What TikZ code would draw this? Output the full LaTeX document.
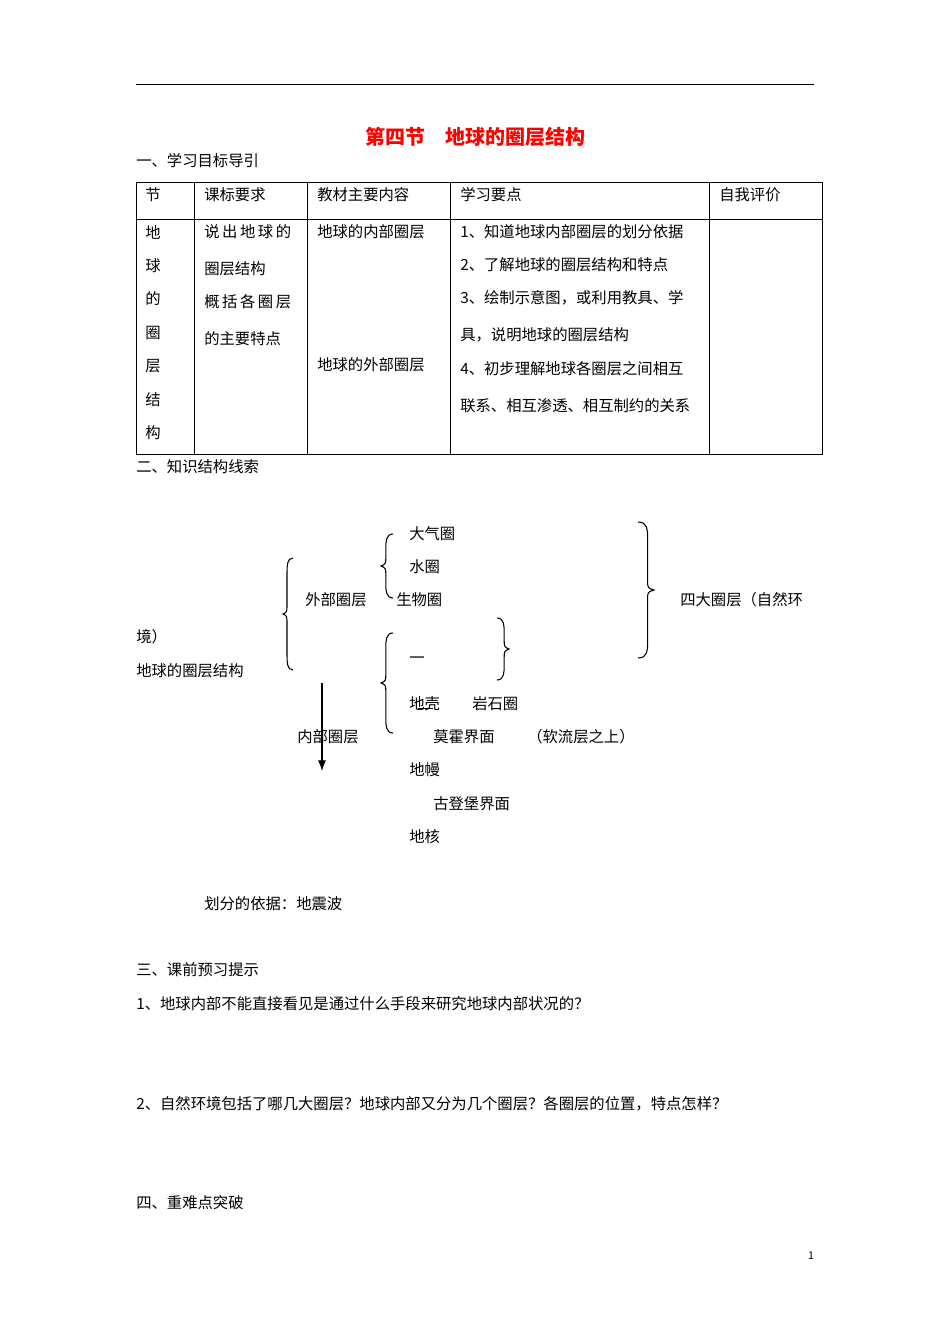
\documentclass[tikz,border=0pt]{standalone}
\usepackage{fontspec}
\usetikzlibrary{arrows.meta}
\setmainfont{Noto Sans CJK SC}
\newfontfamily\cjk{Noto Sans CJK SC}
\begin{document}
\begin{tikzpicture}[x=0.75pt,y=-0.75pt,
  t/.style={anchor=west,inner sep=0pt,font=\cjk\fontsize{11.5}{14}\selectfont},
  brc/.style={line width=0.8pt},
  rule/.style={line width=0.6pt}]
\useasboundingbox (0,0) rectangle (950,1344);
\fill[white] (0,0) rectangle (950,1344);
\newcommand\lbrc[4]{% x ytop ybot width
  \draw[brc] (#1,#2) .. controls ({#1-#4*0.6},#2) and ({#1-#4*0.6},{#2+8}) .. ({#1-#4*0.6},{#2+15})
   -- ({#1-#4*0.6},{(#2+#3)/2-10}) .. controls ({#1-#4*0.6},{(#2+#3)/2-2}) .. ({#1-#4},{(#2+#3)/2})
   .. controls ({#1-#4*0.6},{(#2+#3)/2+2}) .. ({#1-#4*0.6},{(#2+#3)/2+10})
   -- ({#1-#4*0.6},{#3-15}) .. controls ({#1-#4*0.6},{#3-8}) and ({#1-#4*0.6},#3) .. (#1,#3);}
\newcommand\rbrc[4]{% x ytop ybot width (x is open side)
  \draw[brc] (#1,#2) .. controls ({#1+#4*0.6},#2) and ({#1+#4*0.6},{#2+8}) .. ({#1+#4*0.6},{#2+15})
   -- ({#1+#4*0.6},{(#2+#3)/2-10}) .. controls ({#1+#4*0.6},{(#2+#3)/2-2}) .. ({#1+#4},{(#2+#3)/2})
   .. controls ({#1+#4*0.6},{(#2+#3)/2+2}) .. ({#1+#4*0.6},{(#2+#3)/2+10})
   -- ({#1+#4*0.6},{#3-15}) .. controls ({#1+#4*0.6},{#3-8}) and ({#1+#4*0.6},#3) .. (#1,#3);}
\draw[rule] (136,84) -- (814,84);
\node[anchor=center,inner sep=0pt,text=red,font=\cjk\bfseries\fontsize{15}{18}\selectfont] (title) at (475,137) {第四节\hspace{1em}地球的圈层结构};
\node[t] (s1) at (136,161) {一、学习目标导引};
% table
\draw[rule] (136,182) rectangle (822,454);
\draw[rule] (136,219) -- (822,219);
\foreach \xx in {194,307,450,709} \draw[rule] (\xx,182) -- (\xx,454);
\node[t] (h1) at (145,195) {节};
\node[t] (h2) at (204,195) {课标要求};
\node[t] (h3) at (317,195) {教材主要内容};
\node[t] (h4) at (460,195) {学习要点};
\node[t] (h5) at (719,195) {自我评价};
\foreach \c [count=\i] in {地,球,的,圈,层,结,构}
  \node[t] (c\i) at (145,{232+33.5*(\i-1)}) {\c};
\node[t] (r1) at (204,232) {说\,出\,地\,球\,的};
\node[t] (r2) at (204,269) {圈层结构};
\node[t] (r3) at (204,302) {概\,括\,各\,圈\,层};
\node[t] (r4) at (204,339) {的主要特点};
\node[t] (m1) at (317,232) {地球的内部圈层};
\node[t] (m2) at (317,365) {地球的外部圈层};
\node[t] (p1) at (460,232) {1、知道地球内部圈层的划分依据};
\node[t] (p2) at (460,265) {2、了解地球的圈层结构和特点};
\node[t] (p3) at (460,298) {3、绘制示意图，或利用教具、学};
\node[t] (p4) at (460,335) {具，说明地球的圈层结构};
\node[t] (p5) at (460,369) {4、初步理解地球各圈层之间相互};
\node[t] (p6) at (460,406) {联系、相互渗透、相互制约的关系};
\node[t] (s2) at (136,467) {二、知识结构线索};
% diagram
\node[t] (a1) at (409,534) {大气圈};
\node[t] (a2) at (409,567) {水圈};
\node[t] (a3) at (396,600) {生物圈};
\node[t] (wb) at (305,600) {外部圈层};
\node[t] (sd) at (680,600) {四大圈层（自然环};
\node[t] (jing) at (136,637) {境）};
\node[t] (root) at (136,671) {地球的圈层结构};
\node[t] (dash) at (409,660) {一};
\node[t] (dk) at (409,704) {地壳};
\node[t] (ys) at (472,704) {岩石圈};
\node[t] (nb) at (297,737) {内部圈层};
\node[t] (mh) at (433,737) {莫霍界面};
\node[t] (rl) at (527,737) {（软流层之上）};
\node[t] (dm) at (409,770) {地幔};
\node[t] (gd) at (433,804) {古登堡界面};
\node[t] (dh) at (409,837) {地核};
\node[t] (yj) at (204,904) {划分的依据：地震波};
\lbrc{293}{558}{670}{10}
\lbrc{393}{534}{598}{12}
\lbrc{393}{633}{733}{12}
\rbrc{497}{618}{680}{12}
\rbrc{638}{522}{658}{16}
\draw[line width=0.5pt] (418,708) -- (433,708);
\coordinate (at) at (322,683);
\coordinate (ab) at (322,771);
\draw[line width=0.8pt,-{Latex[length=8pt,width=6pt]}] (at) -- (ab);
\node[t] (s3) at (136,970) {三、课前预习提示};
\node[t] (q1) at (136,1004) {1、地球内部不能直接看见是通过什么手段来研究地球内部状况的？};
\node[t] (q2) at (136,1104) {2、自然环境包括了哪几大圈层？地球内部又分为几个圈层？各圈层的位置，特点怎样？};
\node[t] (s4) at (136,1203) {四、重难点突破};
\node[anchor=center,inner sep=0pt,font=\fontsize{8}{10}\selectfont] (pg) at (811,1256) {1};
\end{tikzpicture}
\end{document}
